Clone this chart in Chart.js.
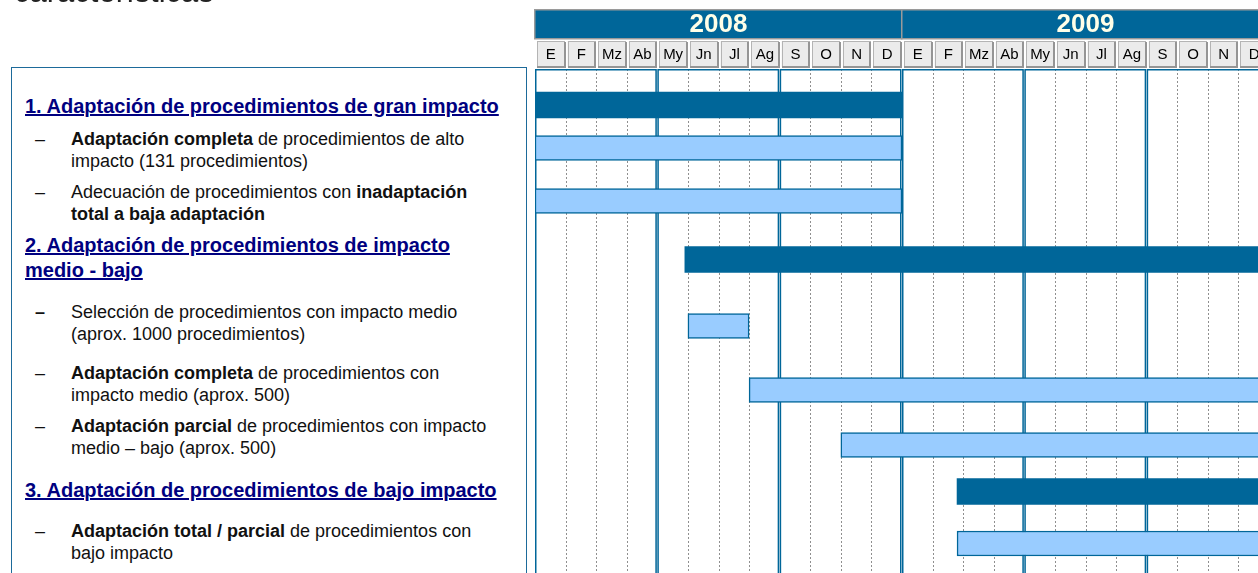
<!DOCTYPE html>
<html>
<head>
<meta charset="utf-8">
<script src="https://cdn.jsdelivr.net/npm/chart.js@4/dist/chart.umd.min.js"></script>
<style>
html,body{margin:0;padding:0;background:#fff;overflow:hidden;width:1258px;height:573px;}
body{position:relative;font-family:"Liberation Sans",Arial,sans-serif;}
#chart{position:absolute;left:0;top:0;}
#title{position:absolute;left:14px;top:-24px;font-size:31px;line-height:32px;color:#222;white-space:nowrap;}
#panel{position:absolute;left:11px;top:67px;width:514px;height:540px;border:1px solid #1d6a9a;background:#fff;}
.t{position:absolute;white-space:nowrap;font-size:18px;line-height:22px;color:#111;}
.h{position:absolute;white-space:nowrap;font-size:20px;line-height:24px;font-weight:bold;color:#000080;text-decoration:underline;}
.d{position:absolute;font-size:18px;line-height:22px;color:#111;}
</style>
</head>
<body>
<canvas id="chart" width="1270" height="573"></canvas>
<div id="title">características</div>
<div id="panel"></div>
<script>
// ---------- DATA ----------
const yearLabels = ["2008", "2009"];
const monthLabels = ["E", "F", "Mz", "Ab", "My", "Jn", "Jl", "Ag", "S", "O", "N", "D"];

const taskNames = [
  "1. Adaptación de procedimientos de gran impacto",
  "Adaptación completa de procedimientos de alto impacto (131 procedimientos)",
  "Adecuación de procedimientos con inadaptación total a baja adaptación",
  "2. Adaptación de procedimientos de impacto medio - bajo",
  "Selección de procedimientos con impacto medio (aprox. 1000 procedimientos)",
  "Adaptación completa de procedimientos con impacto medio (aprox. 500)",
  "Adaptación parcial de procedimientos con impacto medio – bajo (aprox. 500)",
  "3. Adaptación de procedimientos de bajo impacto",
  "Adaptación total / parcial de procedimientos con bajo impacto"
];
// start / end in months counted from January 2008
const taskStart = [0, 0, 0, 4.9, 5, 7, 10, 13.8, 13.8];
const taskEnd   = [12, 12, 12, 24, 7, 24, 24, 24, 24];
const isPhase   = [true, false, false, true, false, false, false, true, false];

// ---------- LAYOUT (text panel lines & row centres) ----------
const labelLines = [
  ["1. Adaptación de procedimientos de gran impacto"],
  ["<b>Adaptación completa</b> de procedimientos de alto", "impacto (131 procedimientos)"],
  ["Adecuación de procedimientos con <b>inadaptación</b>", "<b>total a baja adaptación</b>"],
  ["2. Adaptación de procedimientos de impacto", "medio - bajo"],
  ["Selección de procedimientos con impacto medio", "(aprox. 1000 procedimientos)"],
  ["<b>Adaptación completa</b> de procedimientos con", "impacto medio (aprox. 500)"],
  ["<b>Adaptación parcial</b> de procedimientos con impacto", "medio – bajo (aprox. 500)"],
  ["3. Adaptación de procedimientos de bajo impacto"],
  ["<b>Adaptación total / parcial</b> de procedimientos con", "bajo impacto"]
];
const labelTop = [94, 128, 181, 233, 301, 362, 415, 478, 520];
const rowCenter = [105, 148, 201, 259.5, 326, 390, 445, 491.5, 543.5];
const BLOCK = 4; // months per shaded block (cuatrimestre)

// build text panel
labelLines.forEach((lines, i) => {
  if (isPhase[i]) {
    lines.forEach((ln, k) => {
      const el = document.createElement('div');
      el.className = 'h';
      el.style.left = '25px';
      el.style.top = (labelTop[i] + k * 25) + 'px';
      el.innerHTML = ln;
      document.body.appendChild(el);
    });
  } else {
    const dash = document.createElement('div');
    dash.className = 'd';
    dash.style.left = '35px';
    dash.style.top = labelTop[i] + 'px';
    if (i === 4) dash.style.fontWeight = 'bold';
    dash.textContent = '–';
    document.body.appendChild(dash);
    lines.forEach((ln, k) => {
      const el = document.createElement('div');
      el.className = 't';
      el.style.left = '71px';
      el.style.top = (labelTop[i] + k * 22) + 'px';
      el.innerHTML = ln;
      document.body.appendChild(el);
    });
  }
});

// ---------- CHART ----------
const phaseData = [], taskData = [];
taskNames.forEach((n, i) => {
  const pt = { x: [taskStart[i], taskEnd[i]], y: rowCenter[i], name: n };
  (isPhase[i] ? phaseData : taskData).push(pt);
});

const BLUE = '#006699';
const ganttPlugin = {
  id: 'gantt',
  beforeDatasetsDraw(chart) {
    const { ctx, chartArea, scales } = chart;
    const x = scales.x;
    const nMonths = yearLabels.length * 12;
    ctx.save();
    // dotted month lines
    ctx.strokeStyle = '#8f8f8f';
    ctx.lineWidth = 1;
    ctx.setLineDash([2, 2]);
    for (let m = 1; m < nMonths; m++) {
      if (m % BLOCK === 0) continue;
      const px = Math.round(x.getPixelForValue(m)) + 0.5;
      ctx.beginPath();
      ctx.moveTo(px, chartArea.top);
      ctx.lineTo(px, chartArea.bottom);
      ctx.stroke();
    }
    ctx.setLineDash([]);
    // blocks of four months
    ctx.strokeStyle = BLUE;
    ctx.lineWidth = 1.5;
    for (let q = 0; q < nMonths / BLOCK; q++) {
      const xl = x.getPixelForValue(q * BLOCK) + 0.75;
      const xr = x.getPixelForValue(q * BLOCK + BLOCK) - 1.25;
      const top = chartArea.top + 0.75;
      ctx.beginPath();
      ctx.moveTo(xl, chartArea.bottom + 5);
      ctx.lineTo(xl, top);
      ctx.lineTo(xr, top);
      ctx.lineTo(xr, chartArea.bottom + 5);
      ctx.stroke();
    }
    ctx.restore();
  },
  afterDraw(chart) {
    const { ctx, scales } = chart;
    const x = scales.x;
    ctx.save();
    yearLabels.forEach((yl, yi) => {
      const x0 = x.getPixelForValue(yi * 12);
      const x1 = x.getPixelForValue(yi * 12 + 12);
      ctx.fillStyle = BLUE;
      ctx.fillRect(x0, 10, x1 - x0, 28);
      ctx.strokeStyle = '#9a9a9a';
      ctx.lineWidth = 1.5;
      ctx.strokeRect(x0 - 0.25, 9.75, x1 - x0, 29);
      ctx.fillStyle = '#FFFFE8';
      ctx.font = 'bold 26px "Liberation Sans", Arial, sans-serif';
      ctx.textAlign = 'center';
      ctx.textBaseline = 'middle';
      ctx.fillText(yl, (x0 + x1) / 2, 25);
      monthLabels.forEach((ml, mi) => {
        const m = yi * 12 + mi;
        const c0 = x.getPixelForValue(m) + 2;
        const c1 = x.getPixelForValue(m + 1) - 1;
        ctx.fillStyle = '#EBEBEB';
        ctx.fillRect(c0, 41, c1 - c0, 26);
        ctx.strokeStyle = '#B4B4B4';
        ctx.lineWidth = 1;
        ctx.strokeRect(Math.round(c0) + 0.5, 41.5, Math.round(c1 - c0) - 1, 25);
        ctx.strokeStyle = '#959595';
        ctx.lineWidth = 2;
        ctx.beginPath();
        ctx.moveTo(Math.round(c1), 42);
        ctx.lineTo(Math.round(c1), 67);
        ctx.lineTo(Math.round(c0), 67);
        ctx.stroke();
        ctx.fillStyle = '#000';
        ctx.font = '15px "Liberation Sans", Arial, sans-serif';
        ctx.fillText(ml, (c0 + c1) / 2, 55);
      });
    });
    ctx.restore();
  }
};

new Chart(document.getElementById('chart'), {
  type: 'bar',
  data: {
    datasets: [
      {
        label: 'Fases',
        data: phaseData,
        backgroundColor: BLUE,
        borderColor: BLUE,
        borderWidth: 0,
        barThickness: 26,
        grouped: false,
        borderSkipped: false
      },
      {
        label: 'Tareas',
        data: taskData,
        backgroundColor: '#99CCFF',
        borderColor: BLUE,
        borderWidth: 1.5,
        barThickness: 25,
        grouped: false,
        borderSkipped: false
      }
    ]
  },
  options: {
    indexAxis: 'y',
    responsive: false,
    animation: false,
    devicePixelRatio: 1,
    layout: { padding: { left: 535, right: 1, top: 69, bottom: 0 } },
    scales: {
      x: { type: 'linear', min: 0, max: 24, display: false, offset: false, grid: { offset: false } },
      y: { type: 'linear', min: 69, max: 573, reverse: true, display: false, offset: false, grid: { offset: false } }
    },
    plugins: { legend: { display: false }, tooltip: { enabled: false } }
  },
  plugins: [ganttPlugin]
});
</script>
</body>
</html>
